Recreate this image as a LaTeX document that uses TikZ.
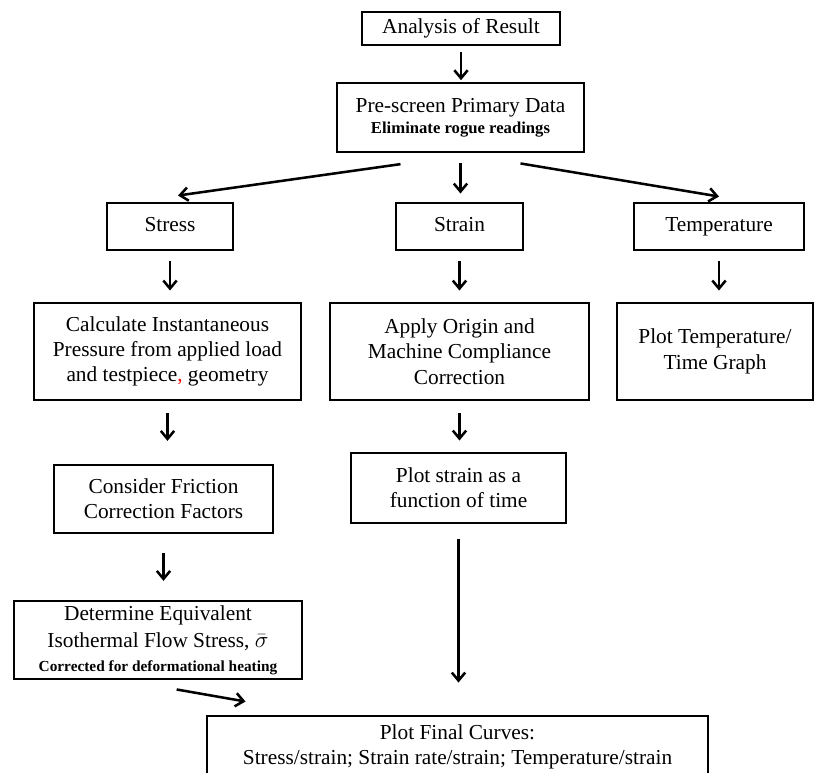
\documentclass[tikz,border=0pt]{standalone}
\usepackage{fontspec}
\setmainfont{Liberation Serif}
\usetikzlibrary{arrows.meta}

\newcommand{\smallbold}{\bfseries\fontsize{12.5}{14}\selectfont}

\begin{document}
\begin{tikzpicture}[
    x=0.75pt, y=-0.75pt,
    font=\fontsize{16}{19}\selectfont,
    box/.style={rectangle, draw=black, line width=2.2pt, align=center, inner sep=2pt},
    label/.style={text height=11pt, text depth=4pt},
    arrow/.style={line width=1.9pt,->,>={Straight Barb[length=6pt,width=10pt]}}
]
\useasboundingbox (0,0) rectangle (816,773);
\clip (0,0) rectangle (816,773);

% Nodes
\node (result) [box, label, minimum width=148.5pt, minimum height=24.75pt] at (461,28.5) {Analysis of Result};

\node (prescreen) [box, minimum width=185.25pt, minimum height=51.75pt] at (460.5,117.5) {Pre-screen Primary Data\\[-3pt]{\smallbold Eliminate rogue readings}};

\node (stress) [box, label, minimum width=94.5pt, minimum height=35.25pt] at (170,226.5) {Stress};
\node (strain) [box, label, minimum width=95.25pt, minimum height=35.25pt] at (459.5,226.5) {Strain};
\node (temp) [box, label, minimum width=127.5pt, minimum height=35.25pt] at (719,226.5) {Temperature};

\node (calc) [box, minimum width=200.25pt, minimum height=72.75pt] at (167.5,351.5) {Calculate Instantaneous\\Pressure from applied load\\and testpiece{\color{red},} geometry};
\node (apply) [box, minimum width=194.25pt, minimum height=72.75pt] at (459.5,351.5) {Apply Origin and\\Machine Compliance\\Correction};
\node (plottemp) [box, minimum width=147pt, minimum height=72.75pt] at (715,351.5) {Plot Temperature/\\Time Graph};

\node (friction) [box, minimum width=164.25pt, minimum height=51pt] at (163.5,499) {Consider Friction\\Correction Factors};
\node (plotstrain) [box, minimum width=161.25pt, minimum height=52.5pt] at (458.5,488) {Plot strain as a\\function of time};

\node (determine) [box, minimum width=216pt, minimum height=58.5pt] at (158,640) {Determine Equivalent\\[1pt]Isothermal Flow Stress, $\bar{\sigma}$\\[-1pt]{\bfseries\fontsize{11.5}{13}\selectfont Corrected for deformational heating}};

\node (final) [box, minimum width=375.75pt, minimum height=46.5pt] at (457.5,747) {Plot Final Curves:\\Stress/strain; Strain rate/strain; Temperature/strain};

% Flow arrows
\draw [arrow, shorten <=4pt, shorten >=1pt] (result) -- (result |- prescreen.north);
\draw [arrow] ([xshift=-45pt,yshift=-8pt]prescreen.south) -- ([xshift=6pt,yshift=4.5pt]stress.north);
\draw [arrow] ([yshift=-7.5pt]prescreen.south) -- ([yshift=6pt]prescreen.south |- strain.north);
\draw [arrow] ([xshift=45pt,yshift=-7.5pt]prescreen.south) -- ([yshift=3.75pt]temp.north);

% Columns
\draw [arrow, shorten <=7.5pt, shorten >=8.25pt] (stress.south) -- (stress.south |- calc.north);
\draw [arrow, shorten <=7.5pt, shorten >=8.25pt] (strain.south) -- (strain.south |- apply.north);
\draw [arrow, shorten <=7.5pt, shorten >=8.25pt] (temp.south) -- (temp.south |- plottemp.north);

\draw [arrow, shorten <=9pt, shorten >=17pt] (calc.south) -- (calc.south |- friction.north);
\draw [arrow, shorten <=9pt, shorten >=8.25pt] (apply.south) -- (apply.south |- plotstrain.north);

\draw [arrow, shorten <=14pt, shorten >=14pt] (friction.south) -- (friction.south |- determine.north);
\draw [arrow, shorten <=11pt, shorten >=24pt] (plotstrain.south) -- (plotstrain.south |- final.north);

\draw [arrow] ([xshift=14pt,yshift=-6.75pt]determine.south) -- ([xshift=30pt,yshift=9.75pt]final.north west);

\end{tikzpicture}
\end{document}
